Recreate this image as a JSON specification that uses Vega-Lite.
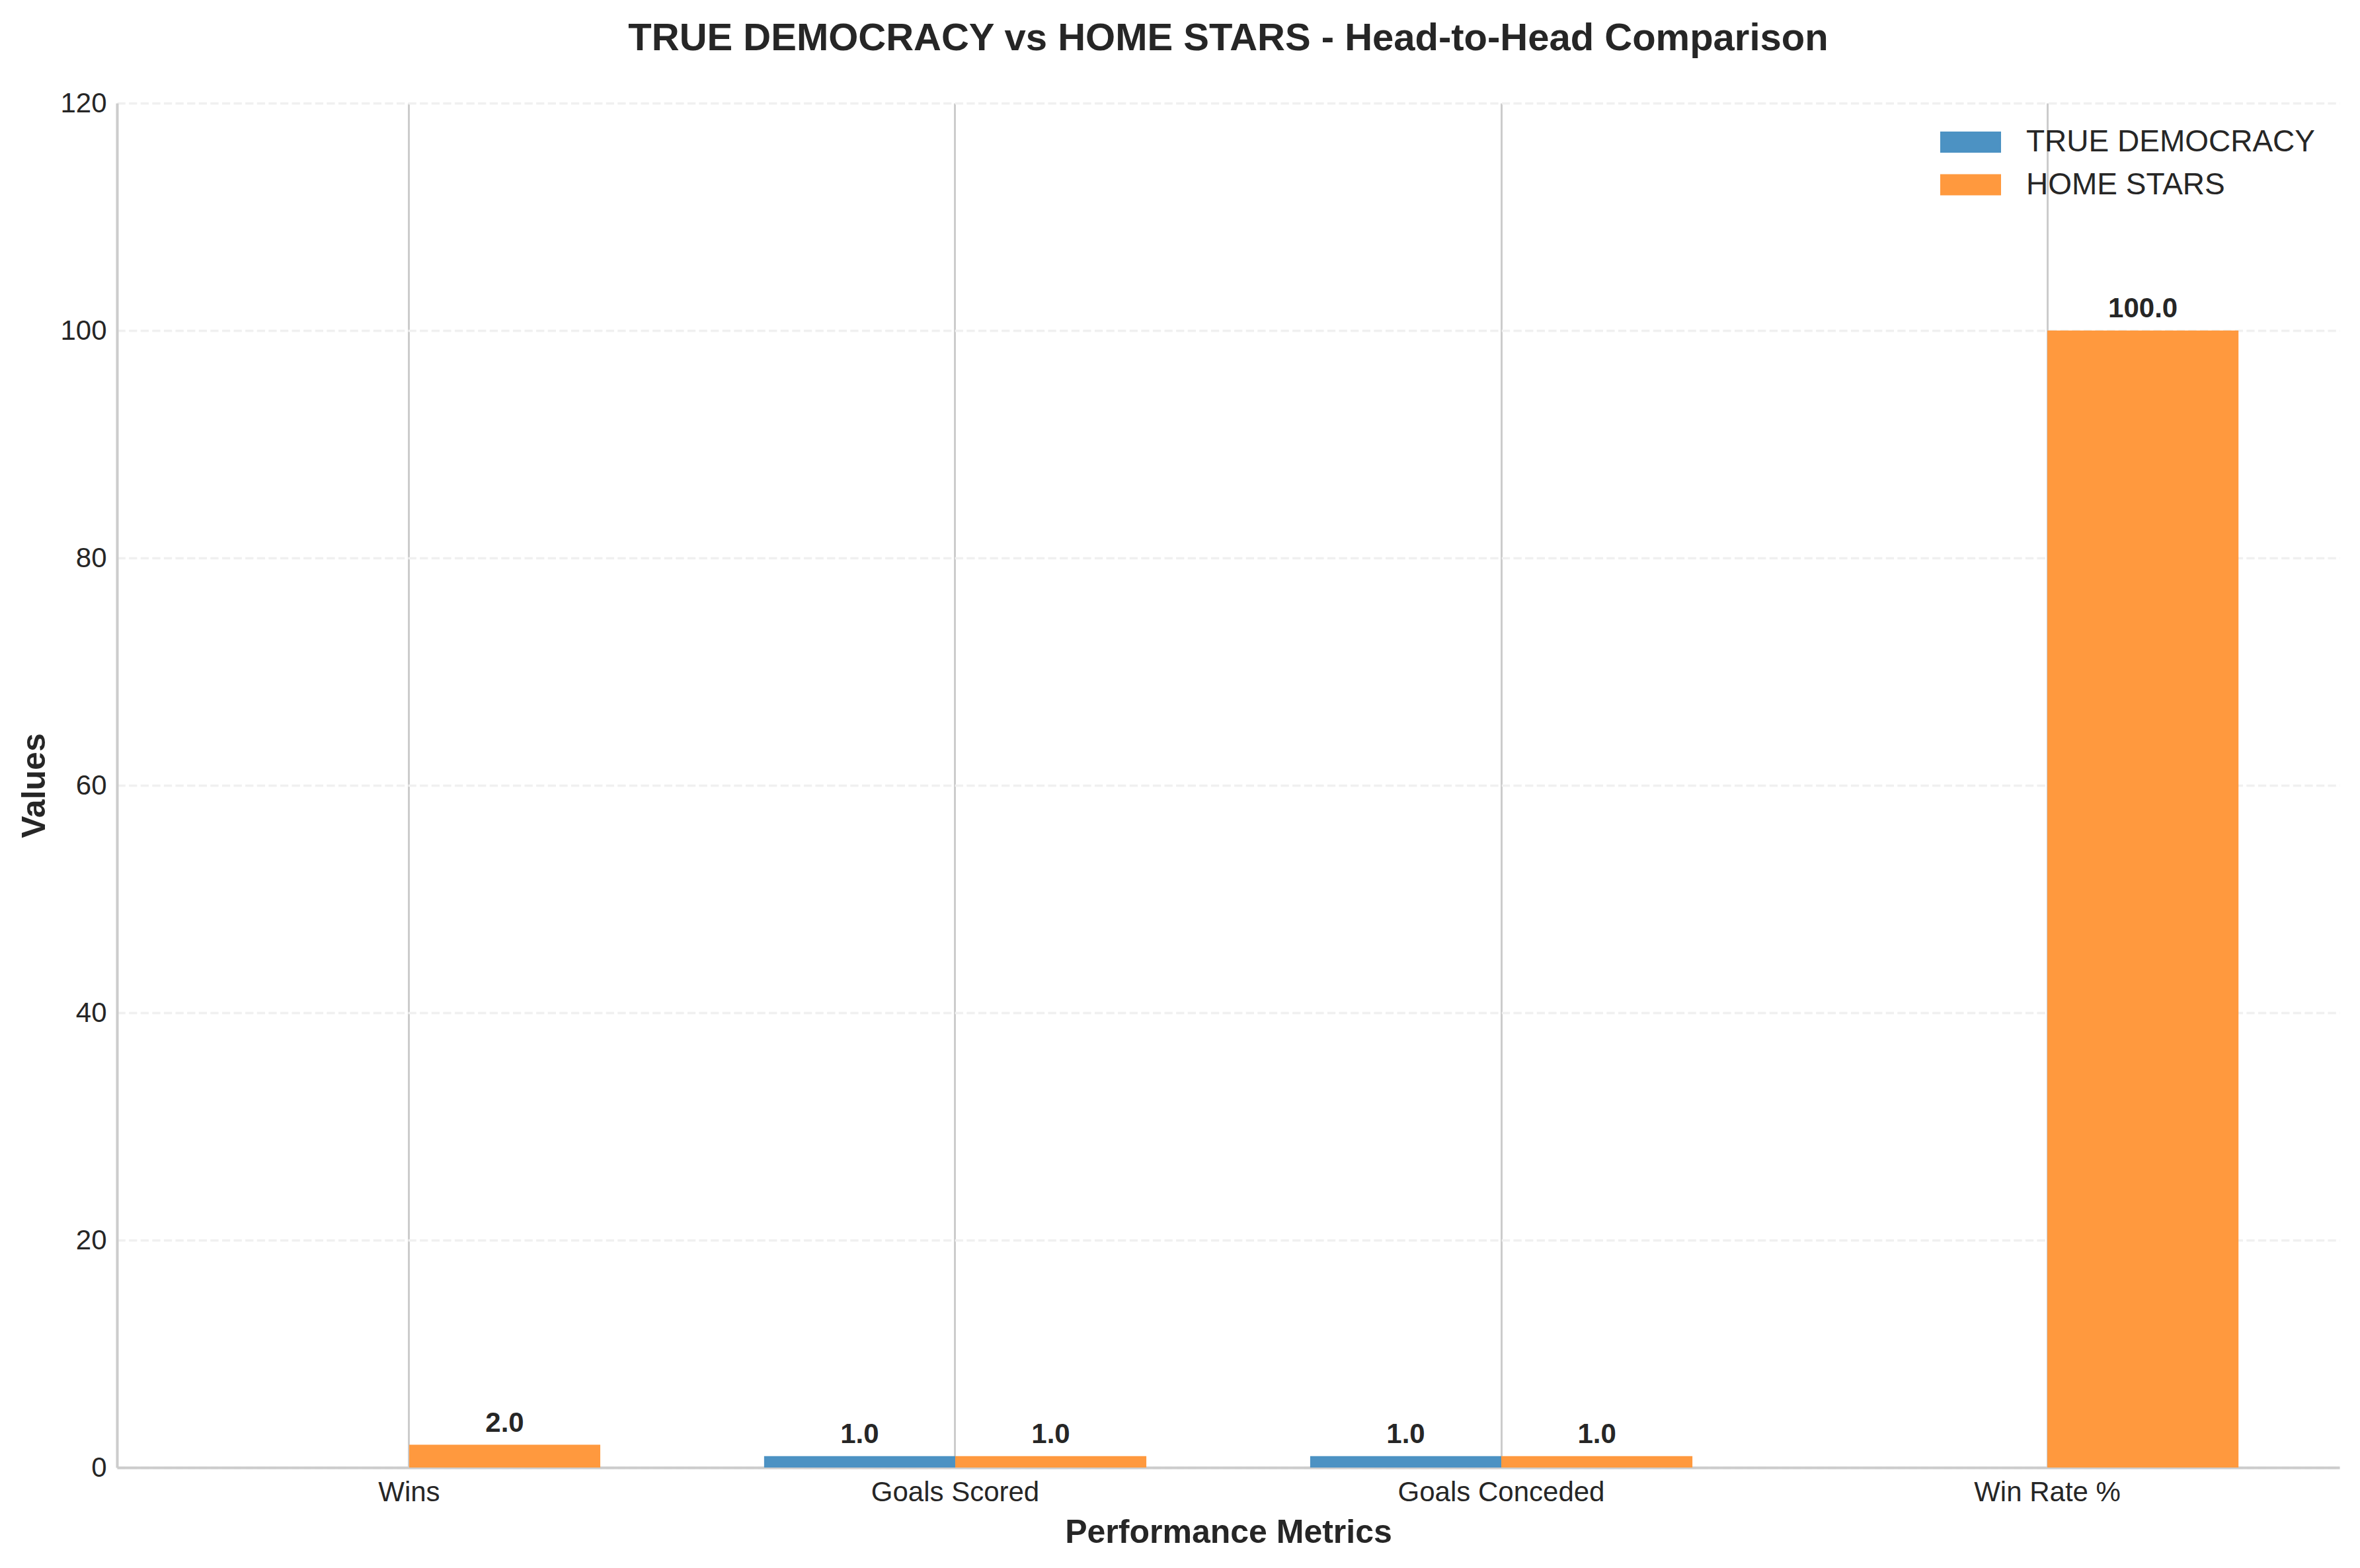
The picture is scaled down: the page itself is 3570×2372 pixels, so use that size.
{
  "$schema": "https://vega.github.io/schema/vega-lite/v6.json",
  "width": 3362,
  "height": 2064,
  "autosize": {"type": "none"},
  "padding": {"left": 177, "top": 156, "right": 31, "bottom": 152},
  "background": "white",
  "config": {"view": {"stroke": null}, "font": "Liberation Sans"},
  "title": {
    "text": "TRUE DEMOCRACY vs HOME STARS - Head-to-Head Comparison",
    "anchor": "middle",
    "fontSize": 58,
    "font": "Liberation Sans",
    "fontWeight": "bold",
    "color": "#262626",
    "baseline": "alphabetic",
    "offset": 1
  },
  "data": {
    "values": [
      {"metric": "Wins", "team": "TRUE DEMOCRACY", "value": 0},
      {"metric": "Wins", "team": "HOME STARS", "value": 2},
      {"metric": "Goals Scored", "team": "TRUE DEMOCRACY", "value": 1},
      {"metric": "Goals Scored", "team": "HOME STARS", "value": 1},
      {"metric": "Goals Conceded", "team": "TRUE DEMOCRACY", "value": 1},
      {"metric": "Goals Conceded", "team": "HOME STARS", "value": 1},
      {"metric": "Win Rate %", "team": "TRUE DEMOCRACY", "value": 0},
      {"metric": "Win Rate %", "team": "HOME STARS", "value": 100}
    ]
  },
  "encoding": {
    "x": {
      "field": "metric",
      "type": "nominal",
      "sort": ["Wins", "Goals Scored", "Goals Conceded", "Win Rate %"],
      "scale": {"paddingInner": 0, "paddingOuter": 0.035},
      "axis": {
        "title": "Performance Metrics",
        "titleFontSize": 50,
        "titleFontWeight": "bold",
        "titleColor": "#262626",
        "titleBaseline": "alphabetic",
        "titleY": 113,
        "titleX": 1681,
        "titleAlign": "center",
        "labelAngle": 0,
        "labelFontSize": 42,
        "labelColor": "#262626",
        "labelPadding": 50,
        "labelBaseline": "alphabetic",
        "labelLimit": 1000,
        "ticks": false,
        "tickSize": 0,
        "grid": true,
        "gridColor": "#cccccc",
        "gridWidth": 3,
        "bandPosition": 0.5,
        "domainColor": "#cccccc",
        "domainWidth": 4
      }
    },
    "xOffset": {
      "field": "team",
      "type": "nominal",
      "sort": ["TRUE DEMOCRACY", "HOME STARS"],
      "scale": {"paddingInner": 0, "paddingOuter": 0.4286}
    },
    "y": {
      "field": "value",
      "type": "quantitative",
      "scale": {"domain": [0, 120], "nice": false},
      "axis": {
        "values": [0, 20, 40, 60, 80, 100, 120],
        "title": "Values",
        "titleFontSize": 50,
        "titleFontWeight": "bold",
        "titleColor": "#262626",
        "titleAngle": -90,
        "titleBaseline": "alphabetic",
        "titleAlign": "center",
        "titleX": -110,
        "titleY": 1032,
        "labelFontSize": 42,
        "labelColor": "#262626",
        "labelPadding": 16,
        "ticks": false,
        "tickSize": 0,
        "grid": true,
        "gridColor": "#f0f0f0",
        "gridWidth": 3.3,
        "gridDash": [12.3, 5.3],
        "domainColor": "#cccccc",
        "domainWidth": 4
      }
    }
  },
  "layer": [
    {
      "mark": {"type": "bar"},
      "encoding": {
        "color": {
          "field": "team",
          "type": "nominal",
          "scale": {"domain": ["TRUE DEMOCRACY", "HOME STARS"], "range": ["#4c92c3", "#ff993e"]},
          "legend": {
            "orient": "none",
            "legendX": 2772,
            "legendY": 27,
            "title": null,
            "symbolType": "M-1.4375,-0.5H1.4375V0.5H-1.4375Z",
            "symbolSize": 4096,
            "symbolStrokeWidth": 0,
            "symbolOpacity": 1,
            "labelFontSize": 46,
            "labelColor": "#262626",
            "labelOffset": 52,
            "labelLimit": 1000,
            "rowPadding": 9.5,
            "padding": 0
          }
        }
      }
    },
    {
      "transform": [{"filter": "datum.value > 0"}],
      "mark": {"type": "text", "baseline": "alphabetic", "dy": -20, "fontSize": 42, "fontWeight": "bold", "color": "#262626"},
      "encoding": {
        "text": {"field": "value", "type": "quantitative", "format": ".1f"}
      }
    }
  ]
}
